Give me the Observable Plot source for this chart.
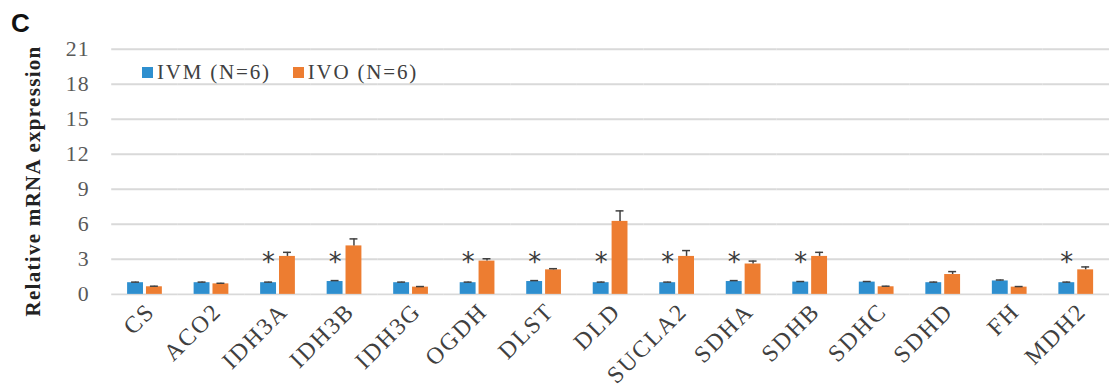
<!DOCTYPE html>
<html>
<head>
<meta charset="utf-8">
<script src="https://cdn.jsdelivr.net/npm/d3@7"></script>
<script src="https://cdn.jsdelivr.net/npm/@observablehq/plot@0.6"></script>
<style>
  html, body { margin: 0; padding: 0; background: #fff; overflow: hidden; }
  #wrap { position: relative; width: 1112px; height: 392px; overflow: hidden; }
  #panel { position: absolute; left: 11px; top: 8px; font: bold 26px "Liberation Sans", Arial, sans-serif; color: #111; }
  #ylabel { position: absolute; left: 33px; top: 181px; transform: translate(-50%, -50%) rotate(-90deg); white-space: nowrap;
            font: bold 21px "Liberation Serif", "Times New Roman", serif; letter-spacing: 1.3px; color: #222; }
  #legend { position: absolute; left: 142px; top: 60px; font: 21px "Liberation Serif", "Times New Roman", serif; letter-spacing: 1.8px; color: #404040; display: flex; align-items: center; }
  #legend .sw { display: inline-block; width: 11px; height: 11px; margin-right: 4px; }
  #legend .item { display: flex; align-items: center; margin-right: 22px; }
</style>
</head>
<body>
<div id="wrap">
  <div id="chart"></div>
  <div id="panel">C</div>
  <div id="ylabel"></div>
  <div id="legend"></div>
</div>
<script>
const genes = ["CS","ACO2","IDH3A","IDH3B","IDH3G","OGDH","DLST","DLD","SUCLA2","SDHA","SDHB","SDHC","SDHD","FH","MDH2"];
const groups = ["IVM (N=6)", "IVO (N=6)"];
const groupKeys = ["IVM", "IVO"];
const groupColors = ["#2e8fcf", "#ed7d31"];
const ivmValues = [1.0, 1.0, 1.0, 1.1, 1.0, 1.0, 1.1, 1.0, 1.0, 1.1, 1.05, 1.05, 1.0, 1.15, 1.0];
const ivmErrors = [0.05, 0.05, 0.05, 0.08, 0.05, 0.05, 0.08, 0.05, 0.05, 0.08, 0.05, 0.05, 0.05, 0.08, 0.05];
const ivoValues = [0.65, 0.9, 3.25, 4.15, 0.62, 2.85, 2.1, 6.25, 3.25, 2.6, 3.25, 0.65, 1.7, 0.62, 2.1];
const ivoErrors = [0.05, 0.05, 0.35, 0.6, 0.05, 0.2, 0.1, 0.9, 0.5, 0.25, 0.35, 0.05, 0.25, 0.05, 0.25];
const significant = ["IDH3A","IDH3B","OGDH","DLST","DLD","SUCLA2","SDHA","SDHB","MDH2"];
const starLevel = 3.1;
const yTicks = [0, 3, 6, 9, 12, 15, 18, 21];
const yLabel = "Relative mRNA expression";

const rows = genes.flatMap((g, i) => [
  {gene: g, group: "IVM", value: ivmValues[i], err: ivmErrors[i]},
  {gene: g, group: "IVO", value: ivoValues[i], err: ivoErrors[i]}
]);
const stars = significant.map(g => ({gene: g, group: "IVM", y: starLevel}));

const serif = "'Liberation Serif', 'Times New Roman', serif";

const chart = Plot.plot({
  width: 1120,
  height: 392,
  marginLeft: 109,
  marginRight: 0,
  marginTop: 49,
  marginBottom: 96,
  style: {fontFamily: serif, background: "#fff", overflow: "visible"},
  fx: {domain: genes, padding: 0, label: null},
  x: {domain: groupKeys, paddingInner: 0.14, paddingOuter: 0.81, axis: null},
  y: {domain: [0, 21], label: null},
  color: {domain: groupKeys, range: groupColors},
  marks: [
    Plot.ruleY(yTicks, {y: d => d, stroke: "#d9d9d9", strokeWidth: 2}),
    Plot.barY(rows, {fx: "gene", x: "group", y: "value", fill: "group"}),
    Plot.ruleX(rows, {fx: "gene", x: "group", y1: "value", y2: d => d.value + d.err, stroke: "#404040", strokeWidth: 1.5}),
    Plot.tickY(rows, {fx: "gene", x: "group", y: d => d.value + d.err, stroke: "#404040", strokeWidth: 1.5, insetLeft: 4, insetRight: 4}),
    Plot.text(stars, {fx: "gene", x: "group", y: "y", text: () => "*", fontSize: 26, fill: "#3a3a3a", fontFamily: "'DejaVu Sans', sans-serif", dy: 5}),
    Plot.axisY(yTicks, {tickSize: 0, tickPadding: 22, fontSize: 22, fill: "#595959", label: null}),
    Plot.axisFx({anchor: "bottom", tickSize: 0, tickPadding: 9, tickRotate: -45, fontSize: 24, fill: "#404040", label: null, dx: 6, dy: 4})
  ]
});
chart.querySelectorAll('[aria-label="y-axis tick label"] text').forEach(t => t.style.letterSpacing = "1.2px");
chart.querySelectorAll('[aria-label="fx-axis tick label"] text').forEach(t => t.style.letterSpacing = "2px");
document.getElementById("chart").appendChild(chart);

document.getElementById("ylabel").textContent = yLabel;

const legend = document.getElementById("legend");
groups.forEach((name, i) => {
  const item = document.createElement("span");
  item.className = "item";
  const sw = document.createElement("span");
  sw.className = "sw";
  sw.style.background = groupColors[i];
  item.appendChild(sw);
  item.appendChild(document.createTextNode(name));
  legend.appendChild(item);
});
</script>
</body>
</html>
